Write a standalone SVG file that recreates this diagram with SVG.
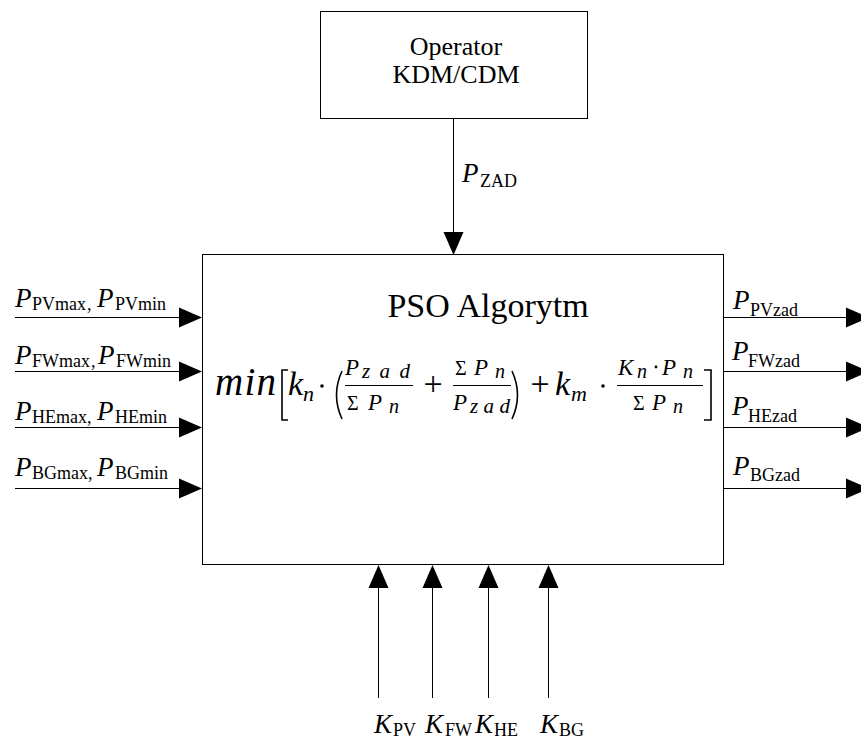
<svg xmlns="http://www.w3.org/2000/svg" width="861" height="742" viewBox="0 0 861 742">
<style>
text{font-family:"Liberation Serif","Times New Roman",serif;fill:#000}
.box{fill:#fff;stroke:#000;stroke-width:1}
.ln{stroke:#000;stroke-width:1;fill:none}
.ah{fill:#000}
.P{font-size:27px;font-style:italic}
.sub{font-size:18px}
.K{font-size:27px;font-style:italic}
.f{font-style:italic}
.br{fill:none;stroke:#000;stroke-width:1.6}
</style>
<rect width="861" height="742" fill="#fff"/>

<g id="operator">
<rect class="box" x="320.5" y="11.5" width="267" height="107"/>
<text x="456" y="55" font-size="26" text-anchor="middle">Operator</text>
<text x="456" y="83" font-size="26" text-anchor="middle">KDM/CDM</text>
</g>

<g id="pso">
<rect class="box" x="202.5" y="254.5" width="521" height="310"/>
<text x="488" y="317" font-size="34" text-anchor="middle">PSO Algorytm</text>
<g id="formula">
<text class="f" x="215" y="395" font-size="39" textLength="61" lengthAdjust="spacing">min</text>
<path class="br" d="M288,370 H282 V420 H288"/>
<text class="f" x="288" y="395" font-size="34">k</text>
<text class="f" x="303" y="401" font-size="22">n</text>
<circle cx="322" cy="386" r="1.8"/>
<path class="br" d="M342,371 Q331,395 342,419"/>
<!-- frac 1 -->
<text class="f" x="345" y="375" font-size="23">P</text>
<text class="f" x="362" y="378" font-size="21" textLength="48" lengthAdjust="spacing">zad</text>
<line class="ln" x1="345" y1="385.5" x2="413" y2="385.5"/>
<text x="347" y="410" font-size="20">Σ</text>
<text class="f" x="368" y="410" font-size="23">P</text>
<text class="f" x="389" y="413" font-size="20">n</text>
<text x="433" y="395" font-size="34" text-anchor="middle">+</text>
<!-- frac 2 -->
<text x="455" y="375" font-size="20">Σ</text>
<text class="f" x="474" y="375" font-size="23">P</text>
<text class="f" x="495" y="378" font-size="20">n</text>
<line class="ln" x1="453" y1="385.5" x2="511" y2="385.5"/>
<text class="f" x="453" y="410" font-size="23">P</text>
<text class="f" x="470" y="413" font-size="21" textLength="40" lengthAdjust="spacing">zad</text>
<path class="br" d="M512,371 Q523,395 512,419"/>
<text x="540" y="395" font-size="34" text-anchor="middle">+</text>
<text class="f" x="555" y="395" font-size="34">k</text>
<text class="f" x="571" y="401" font-size="22">m</text>
<circle cx="603" cy="386" r="1.8"/>
<!-- frac 3 -->
<text class="f" x="618" y="375" font-size="23">K</text>
<text class="f" x="637" y="378" font-size="20">n</text>
<circle cx="656" cy="367" r="1.4"/>
<text class="f" x="662" y="375" font-size="23">P</text>
<text class="f" x="683" y="378" font-size="20">n</text>
<line class="ln" x1="617" y1="385.5" x2="703" y2="385.5"/>
<text x="633" y="410" font-size="20">Σ</text>
<text class="f" x="652" y="410" font-size="23">P</text>
<text class="f" x="673" y="413" font-size="20">n</text>
<path class="br" d="M704,370 H711 V420 H704"/>
</g>
</g>

<g id="connectors">
<line class="ln" x1="453.5" y1="118" x2="453.5" y2="240"/>
<polygon class="ah" points="443.5,232 463.5,232 453.5,255"/>

<line class="ln" x1="15" y1="317.5" x2="190" y2="317.5"/>
<polygon class="ah" points="179,307.5 179,327.5 202,317.5"/>
<line class="ln" x1="15" y1="371.5" x2="190" y2="371.5"/>
<polygon class="ah" points="179,361.5 179,381.5 202,371.5"/>
<line class="ln" x1="15" y1="427.5" x2="190" y2="427.5"/>
<polygon class="ah" points="179,417.5 179,437.5 202,427.5"/>
<line class="ln" x1="15" y1="488.5" x2="190" y2="488.5"/>
<polygon class="ah" points="179,478.5 179,498.5 202,488.5"/>

<line class="ln" x1="724" y1="317.5" x2="861" y2="317.5"/>
<polygon class="ah" points="846,307.5 846,327.5 869,317.5"/>
<line class="ln" x1="724" y1="371.5" x2="861" y2="371.5"/>
<polygon class="ah" points="846,361.5 846,381.5 869,371.5"/>
<line class="ln" x1="724" y1="427.5" x2="861" y2="427.5"/>
<polygon class="ah" points="846,417.5 846,437.5 869,427.5"/>
<line class="ln" x1="724" y1="488.5" x2="861" y2="488.5"/>
<polygon class="ah" points="846,478.5 846,498.5 869,488.5"/>

<line class="ln" x1="378.5" y1="698" x2="378.5" y2="580"/>
<polygon class="ah" points="368.5,588 388.5,588 378.5,565"/>
<line class="ln" x1="432.5" y1="698" x2="432.5" y2="580"/>
<polygon class="ah" points="422.5,588 442.5,588 432.5,565"/>
<line class="ln" x1="488.5" y1="698" x2="488.5" y2="580"/>
<polygon class="ah" points="478.5,588 498.5,588 488.5,565"/>
<line class="ln" x1="548.5" y1="698" x2="548.5" y2="580"/>
<polygon class="ah" points="538.5,588 558.5,588 548.5,565"/>
</g>

<g id="labels">
<text><tspan class="P" x="462" y="182">P</tspan><tspan class="sub" x="480" y="187" font-size="17">ZAD</tspan></text>

<text><tspan class="P" x="15" y="307">P</tspan><tspan class="sub" x="32" y="310">PVmax</tspan><tspan class="sub" x="87" y="310">,</tspan><tspan class="P" x="97" y="307">P</tspan><tspan class="sub" x="115" y="310">PVmin</tspan></text>
<text><tspan class="P" x="15" y="364">P</tspan><tspan class="sub" x="32" y="367">FWmax</tspan><tspan class="sub" x="91" y="367">,</tspan><tspan class="P" x="98" y="364">P</tspan><tspan class="sub" x="116" y="367">FWmin</tspan></text>
<text><tspan class="P" x="15" y="420">P</tspan><tspan class="sub" x="32" y="423">HEmax</tspan><tspan class="sub" x="87" y="423">,</tspan><tspan class="P" x="97" y="420">P</tspan><tspan class="sub" x="115" y="423">HEmin</tspan></text>
<text><tspan class="P" x="15" y="476">P</tspan><tspan class="sub" x="32" y="479">BGmax</tspan><tspan class="sub" x="88" y="479">,</tspan><tspan class="P" x="97" y="476">P</tspan><tspan class="sub" x="115" y="479">BGmin</tspan></text>

<text><tspan class="P" x="733" y="309">P</tspan><tspan class="sub" x="750" y="316">PVzad</tspan></text>
<text><tspan class="P" x="732" y="360">P</tspan><tspan class="sub" x="748" y="367">FWzad</tspan></text>
<text><tspan class="P" x="732" y="415">P</tspan><tspan class="sub" x="748" y="422">HEzad</tspan></text>
<text><tspan class="P" x="733" y="475">P</tspan><tspan class="sub" x="750" y="481">BGzad</tspan></text>

<text><tspan class="K" x="374" y="733">K</tspan><tspan class="sub" x="393" y="736">PV</tspan></text>
<text><tspan class="K" x="425" y="733">K</tspan><tspan class="sub" x="445" y="736">FW</tspan></text>
<text><tspan class="K" x="475" y="733">K</tspan><tspan class="sub" x="494" y="736">HE</tspan></text>
<text><tspan class="K" x="540" y="733">K</tspan><tspan class="sub" x="559" y="736">BG</tspan></text>
</g>
</svg>
